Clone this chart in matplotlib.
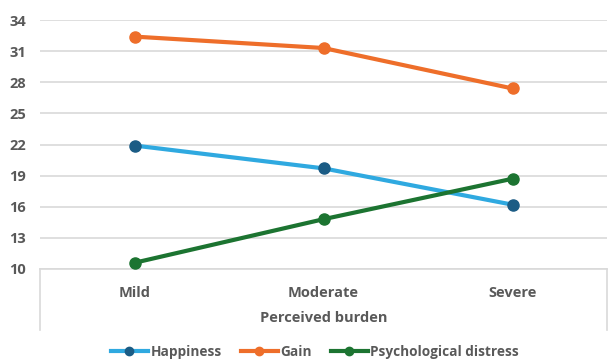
import matplotlib.pyplot as plt

categories = ['Mild', 'Moderate', 'Severe']
happiness = [21.9, 19.7, 16.2]
gain = [32.4, 31.3, 27.4]
distress = [10.6, 14.8, 18.7]
yticks = [10, 13, 16, 19, 22, 25, 28, 31, 34]

plt.rcParams['font.family'] = ['Open Sans', 'DejaVu Sans']
text_color = '#595959'

fig = plt.figure(figsize=(6.08, 3.61), dpi=100)
ax = fig.add_axes([40 / 608, 1 - 269 / 361, 567 / 608, 249 / 361])

x = range(len(categories))
ax.plot(x, happiness, color='#2FA9E0', lw=3, marker='o', ms=8,
        mfc='#1B5C85', mec='#1B5C85', label='Happiness', zorder=3)
ax.plot(x, gain, color='#EE6E2A', lw=3, marker='o', ms=8,
        mfc='#EE6E2A', mec='#EE6E2A', label='Gain', zorder=3)
ax.plot(x, distress, color='#1C7431', lw=3, marker='o', ms=8,
        mfc='#1C7431', mec='#1C7431', label='Psychological distress', zorder=3)

ax.set_xlim(-0.5, 2.5)
ax.set_ylim(10, 34)
ax.set_yticks(yticks)
ax.set_yticklabels([str(v) for v in yticks], fontsize=10.5, fontweight='bold', color=text_color)
ax.set_xticks(list(x))
ax.set_xticklabels(categories, fontsize=10.5, fontweight='bold', color=text_color)
ax.tick_params(axis='both', length=0)
ax.tick_params(axis='y', pad=10)
ax.tick_params(axis='x', pad=12)
ax.grid(axis='y', color='#d9d9d9', lw=1.2)
ax.set_axisbelow(True)
for s in ['top', 'right', 'left']:
    ax.spines[s].set_visible(False)
ax.spines['bottom'].set_color('#d9d9d9')
ax.spines['bottom'].set_linewidth(1.2)

# box lines around the category axis
ax.plot([0, 0], [0, -0.245], transform=ax.transAxes, color='#d9d9d9', lw=1.2, clip_on=False)
ax.plot([1, 1], [0, -0.245], transform=ax.transAxes, color='#d9d9d9', lw=1.2, clip_on=False)

ax.set_xlabel('Perceived burden', fontsize=10.5, fontweight='bold', color=text_color, labelpad=8)

handles, labels = ax.get_legend_handles_labels()
leg = fig.legend(handles, labels, loc='center', bbox_to_anchor=(315 / 608, 1 - 352 / 361),
                 ncol=3, frameon=False, handlelength=2.7, columnspacing=1.4, handletextpad=0.2,
                 markerscale=0.75, prop={'size': 9.8, 'weight': 'bold'})
for t in leg.get_texts():
    t.set_color(text_color)

fig.savefig('out.png', dpi=100)
